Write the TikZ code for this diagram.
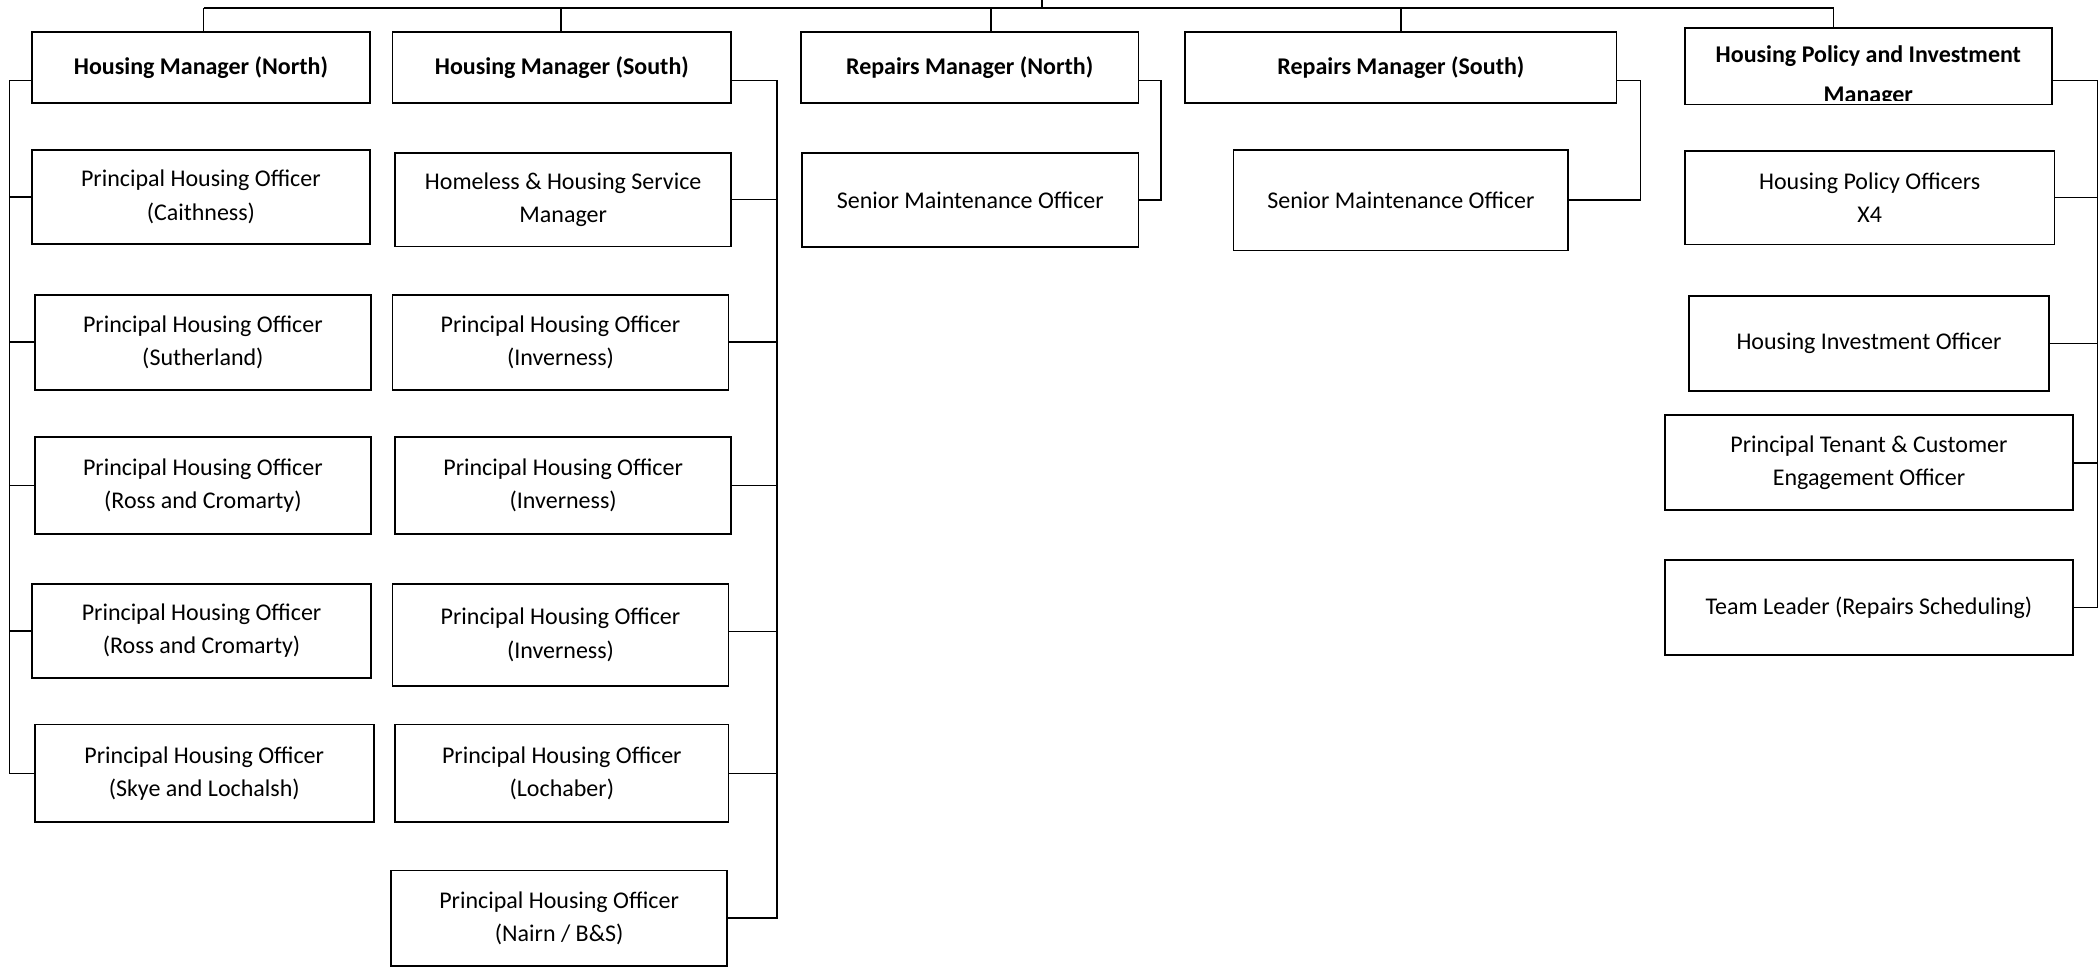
\documentclass[tikz,border=0pt]{standalone}
\usepackage{fontspec}
\setmainfont{Carlito}
\usepackage{tikz}

\begin{document}
\begin{tikzpicture}[x = 0.67pt, y = -0.67pt, font = \fontsize{12}{16.75}\selectfont,
  box/.style = {draw, line width = 0.9pt, align = center, inner sep = 0pt},
  head/.style = {box, font = \fontsize{12}{16.75}\selectfont\bfseries},
  sz/.style 2 args = {minimum width = #1*0.67pt, minimum height = #2*0.67pt},
  link/.style = {line width = 0.85pt}]
\useasboundingbox (0,0) rectangle (1568,724);

% Housing Manager (North)
\node[head, sz={252}{53}] (hmn) at (150,50.5)   {Housing Manager (North)};
\node[box, sz={252}{70}]  (hn1) at (150,147)    {Principal Housing Officer\\(Caithness)};
\node[box, sz={251}{71}]  (hn2) at (151.5,255.5) {Principal Housing Officer\\(Sutherland)};
\node[box, sz={251}{73}]  (hn3) at (151.5,362.5) {Principal Housing Officer\\(Ross and Cromarty)};
\node[box, sz={253}{70}]  (hn4) at (150.5,471)  {Principal Housing Officer\\(Ross and Cromarty)};
\node[box, sz={253}{73}]  (hn5) at (152.5,577.5) {Principal Housing Officer\\(Skye and Lochalsh)};

% Housing Manager (South)
\node[head, sz={253}{53}] (hms) at (419.5,50.5) {Housing Manager (South)};
\node[box, sz={251}{70}]  (hs1) at (420.5,149)  {Homeless \& Housing Service\\Manager};
\node[box, sz={251}{71}]  (hs2) at (418.5,255.5) {Principal Housing Officer\\(Inverness)};
\node[box, sz={251}{73}]  (hs3) at (420.5,362.5) {Principal Housing Officer\\(Inverness)};
\node[box, sz={251}{76}]  (hs4) at (418.5,474)  {Principal Housing Officer\\(Inverness)};
\node[box, sz={249}{73}]  (hs5) at (419.5,577.5) {Principal Housing Officer\\(Lochaber)};
\node[box, sz={251}{71}]  (hs6) at (417.5,685.5) {Principal Housing Officer\\(Nairn / B\&S)};

% Repairs Managers
\node[head, sz={252}{53}] (rmn) at (724,50.5)   {Repairs Manager (North)};
\node[box, sz={251}{70}]  (rn1) at (724.5,149.5) {Senior Maintenance Officer};
\node[head, sz={322}{53}] (rms) at (1046,50.5)  {Repairs Manager (South)};
\node[box, sz={250}{75}]  (rs1) at (1046,149.5) {Senior Maintenance Officer};

% Housing Policy and Investment Manager (second line cut off by the box)
\begin{scope}
\clip (1258,21) rectangle (1532,74.7);
\node[anchor = base, font = \fontsize{12}{16.75}\selectfont\bfseries] (hpt1) at (1395,46.4) {Housing Policy and Investment};
\node[anchor = base, font = \fontsize{12}{16.75}\selectfont\bfseries] (hpt2) at (1395,76.2) {Manager};
\end{scope}
\node[head, sz={274}{57}] (hpm) at (1395,49.5)  {};
\node[box, sz={276}{70}]  (hp1) at (1396,147.5) {Housing Policy Officers\\X4};
\node[box, sz={269}{71}]  (hp2) at (1395.5,256.5) {Housing Investment Officer};
\node[box, sz={305}{71}]  (hp3) at (1395.5,345.5) {Principal Tenant \& Customer\\Engagement Officer};
\node[box, sz={305}{71}]  (hp4) at (1395.5,453.5) {Team Leader (Repairs Scheduling)};

% top bus
\coordinate (root) at (778,0);
\coordinate (bus)  at (778,6);
\coordinate (d1) at (152,6);
\coordinate (d2) at (419,6);
\coordinate (d3) at (740,6);
\coordinate (d4) at (1046,6);
\coordinate (d5) at (1369,6);
\path[link] (root) edge (bus)
            (d1) edge (d5)
            (d1) edge (d1 |- hmn.north)
            (d2) edge (d2 |- hms.north)
            (d3) edge (d3 |- rmn.north)
            (d4) edge (d4 |- rms.north)
            (d5) edge (d5 |- hpm.north);

% spines
\coordinate (sp1) at (7,60);
\coordinate (sp2) at (580,60);
\coordinate (sp3) at (867,60);
\coordinate (sp4) at (1225,60);
\coordinate (sp5) at (1566,60);

\draw[link] (sp1 -| hmn.west) -- (sp1) -- (sp1 |- hn5.west) -- (hn5.west);
\path[link] (hn1.west) edge (hn1.west -| sp1)
            (hn2.west) edge (hn2.west -| sp1)
            (hn3.west) edge (hn3.west -| sp1)
            (hn4.west) edge (hn4.west -| sp1);

\draw[link] (sp2 -| hms.east) -- (sp2) -- (sp2 |- hs6.east) -- (hs6.east);
\path[link] (hs1.east) edge (hs1.east -| sp2)
            (hs2.east) edge (hs2.east -| sp2)
            (hs3.east) edge (hs3.east -| sp2)
            ([yshift=1.6pt]hs4.east) edge ([yshift=1.6pt]hs4.east -| sp2)
            (hs5.east) edge (hs5.east -| sp2);

\draw[link] (sp3 -| rmn.east) -- (sp3) -- (sp3 |- rn1.east) -- (rn1.east);
\draw[link] (sp4 -| rms.east) -- (sp4) -- (sp4 |- rs1.east) -- (rs1.east);

\draw[link] (sp5 -| hpm.east) -- (sp5) -- (sp5 |- hp4.east) -- (hp4.east);
\path[link] (hp1.east) edge (hp1.east -| sp5)
            (hp2.east) edge (hp2.east -| sp5)
            (hp3.east) edge (hp3.east -| sp5);
\end{tikzpicture}
\end{document}
